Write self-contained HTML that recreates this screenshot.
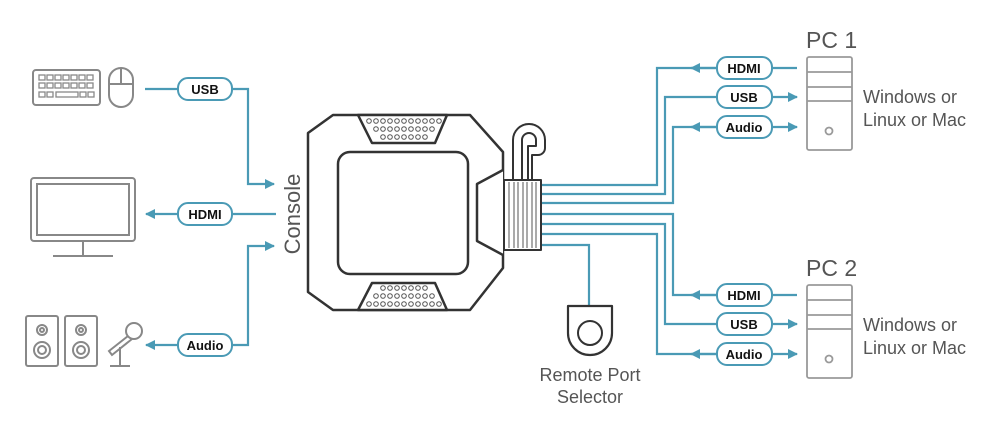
<!DOCTYPE html>
<html><head><meta charset="utf-8"><style>
html,body{margin:0;padding:0;background:#fff;}
svg{display:block;}
text{font-family:"Liberation Sans",sans-serif;}
</style></head><body>
<svg width="1000" height="437" viewBox="0 0 1000 437" xmlns="http://www.w3.org/2000/svg">
<defs>
<marker id="a" markerWidth="10" markerHeight="10" refX="9" refY="5" orient="auto" markerUnits="userSpaceOnUse"><path d="M0,0 L10,5 L0,10 z" fill="#4a9ab5"/></marker>
</defs>
<g fill="none" stroke="#4a9ab5" stroke-width="2.2">
<!-- left -->
<path d="M145,89 H248 V184 H274" marker-end="url(#a)"/>
<path d="M276,214 H146" marker-end="url(#a)"/>
<path d="M232,345 H248 V246 H274" marker-end="url(#a)"/>
<path d="M180,345 H146" marker-end="url(#a)"/>
<!-- right -->
<path d="M542,185 H657 V68 H797"/>
<path d="M720,68 H691" marker-end="url(#a)"/>
<path d="M542,194 H665 V97 H797" marker-end="url(#a)"/>
<path d="M542,203 H673 V127 H797" marker-end="url(#a)"/>
<path d="M720,127 H691" marker-end="url(#a)"/>
<path d="M542,214 H673 V295 H797"/>
<path d="M720,295 H691" marker-end="url(#a)"/>
<path d="M542,224 H665 V324 H797" marker-end="url(#a)"/>
<path d="M542,234 H657 V354 H797" marker-end="url(#a)"/>
<path d="M720,354 H691" marker-end="url(#a)"/>
<path d="M542,245 H589 V306"/>
</g>
<!-- pills -->
<g fill="#fff" stroke="#4a9ab5" stroke-width="2">
<rect x="178" y="78" width="54" height="22" rx="10"/>
<rect x="178" y="203" width="54" height="22" rx="10"/>
<rect x="178" y="334" width="54" height="22" rx="10"/>
<rect x="717" y="57" width="55" height="22" rx="10"/>
<rect x="717" y="86" width="55" height="22" rx="10"/>
<rect x="717" y="116" width="55" height="22" rx="10"/>
<rect x="717" y="284" width="55" height="22" rx="10"/>
<rect x="717" y="313" width="55" height="22" rx="10"/>
<rect x="717" y="343" width="55" height="22" rx="10"/>
</g>
<g font-size="13" font-weight="bold" fill="#111" text-anchor="middle">
<text x="205" y="94">USB</text><text x="205" y="219">HDMI</text><text x="205" y="350">Audio</text>
<text x="744" y="73">HDMI</text><text x="744" y="102">USB</text><text x="744" y="132">Audio</text>
<text x="744" y="300">HDMI</text><text x="744" y="329">USB</text><text x="744" y="359">Audio</text>
</g>
<!-- left devices -->
<g fill="none" stroke="#888" stroke-width="2">
<rect x="33" y="70" width="67" height="35" rx="3"/>
<g stroke-width="1.3">
<rect x="39" y="75" width="6" height="5"/><rect x="47" y="75" width="6" height="5"/><rect x="55" y="75" width="6" height="5"/><rect x="63" y="75" width="6" height="5"/><rect x="71" y="75" width="6" height="5"/><rect x="79" y="75" width="6" height="5"/><rect x="87" y="75" width="6" height="5"/>
<rect x="39" y="83" width="6" height="5"/><rect x="47" y="83" width="6" height="5"/><rect x="55" y="83" width="6" height="5"/><rect x="63" y="83" width="6" height="5"/><rect x="71" y="83" width="6" height="5"/><rect x="79" y="83" width="6" height="5"/><rect x="87" y="83" width="6" height="5"/>
<rect x="39" y="92" width="6" height="5"/><rect x="47" y="92" width="6" height="5"/><rect x="56" y="92" width="22" height="5"/><rect x="80" y="92" width="6" height="5"/><rect x="88" y="92" width="6" height="5"/>
</g>
<path d="M109,80 a12,12 0 0 1 24,0 V95 a12,12 0 0 1 -24,0 z M109,84 H133 M121,68 V84"/>
<rect x="31" y="178" width="104" height="63" rx="3"/>
<rect x="37" y="184" width="92" height="51"/>
<path d="M83,241 V256 M53,256 H113"/>
<rect x="26" y="316" width="32" height="50" rx="2"/>
<rect x="65" y="316" width="32" height="50" rx="2"/>
<circle cx="42" cy="330" r="5"/><circle cx="42" cy="330" r="2"/><circle cx="42" cy="350" r="8"/><circle cx="42" cy="350" r="4"/>
<circle cx="81" cy="330" r="5"/><circle cx="81" cy="330" r="2"/><circle cx="81" cy="350" r="8"/><circle cx="81" cy="350" r="4"/>
<circle cx="134" cy="331" r="8"/>
<path d="M128,336 L109,351 L112,355 L132,339 M120,347 V366 M110,366 H130"/>
</g>
<text x="0" y="0" font-size="22" fill="#555" transform="translate(300,214) rotate(-90)" text-anchor="middle">Console</text>
<!-- device -->
<g fill="#fff" stroke="#333" stroke-width="2.5" stroke-linejoin="round">
<path d="M308,133 L333,115 H470 L503,152 V268 L470,310 H333 L308,292 Z"/>
<path d="M503,170 L477,184 V241 L503,255"/>
<rect x="338" y="152" width="130" height="122" rx="12"/>
<path d="M358,115 H447 L435,143 H372 Z"/>
<path d="M372,283 H435 L447,310 H358 Z"/>
<path d="M513,181 V140 a16,16 0 0 1 32,0 V148 a7,7 0 0 1 -7,7 H532 V181 M522,181 V140 a7,7 0 0 1 14,0 V146 H528 V181" stroke-width="2"/>
<rect x="504" y="180" width="37" height="70" stroke-width="2"/>
<path d="M592,306 H612 V333 a22,22 0 0 1 -44,0 V306 Z" stroke-width="2.2"/>
<circle cx="590" cy="333" r="12" stroke-width="2"/>
</g>
<g stroke="#555" stroke-width="1" fill="none">
<path d="M509,182 V248 M514,182 V248 M518,182 V248 M523,182 V248 M527,182 V248 M532,182 V248 M536,182 V248"/>
</g>
<g fill="none" stroke="#555" stroke-width="1">
<g id="v1">
<circle cx="369" cy="121" r="2.3"/><circle cx="376" cy="121" r="2.3"/><circle cx="383" cy="121" r="2.3"/><circle cx="390" cy="121" r="2.3"/><circle cx="397" cy="121" r="2.3"/><circle cx="404" cy="121" r="2.3"/><circle cx="411" cy="121" r="2.3"/><circle cx="418" cy="121" r="2.3"/><circle cx="425" cy="121" r="2.3"/><circle cx="432" cy="121" r="2.3"/><circle cx="439" cy="121" r="2.3"/>
<circle cx="376" cy="129" r="2.3"/><circle cx="383" cy="129" r="2.3"/><circle cx="390" cy="129" r="2.3"/><circle cx="397" cy="129" r="2.3"/><circle cx="404" cy="129" r="2.3"/><circle cx="411" cy="129" r="2.3"/><circle cx="418" cy="129" r="2.3"/><circle cx="425" cy="129" r="2.3"/><circle cx="432" cy="129" r="2.3"/>
<circle cx="383" cy="137" r="2.3"/><circle cx="390" cy="137" r="2.3"/><circle cx="397" cy="137" r="2.3"/><circle cx="404" cy="137" r="2.3"/><circle cx="411" cy="137" r="2.3"/><circle cx="418" cy="137" r="2.3"/><circle cx="425" cy="137" r="2.3"/>
</g>
<use href="#v1" transform="translate(0,425) scale(1,-1)"/>
</g>
<!-- PCs -->
<g fill="none" stroke="#999" stroke-width="1.8">
<rect x="807" y="57" width="45" height="93" rx="2"/>
<path d="M807,72 H852 M807,87 H852 M807,101 H852"/>
<circle cx="829" cy="131" r="3.5"/>
<rect x="807" y="285" width="45" height="93" rx="2"/>
<path d="M807,300 H852 M807,315 H852 M807,329 H852"/>
<circle cx="829" cy="359" r="3.5"/>
</g>
<g fill="#555">
<text x="806" y="48" font-size="23">PC 1</text>
<text x="806" y="276" font-size="23">PC 2</text>
<text x="863" y="103" font-size="18">Windows or</text>
<text x="863" y="126" font-size="18">Linux or Mac</text>
<text x="863" y="331" font-size="18">Windows or</text>
<text x="863" y="354" font-size="18">Linux or Mac</text>
<text x="590" y="381" font-size="18" text-anchor="middle">Remote Port</text>
<text x="590" y="403" font-size="18" text-anchor="middle">Selector</text>
</g>
</svg>
</body></html>
